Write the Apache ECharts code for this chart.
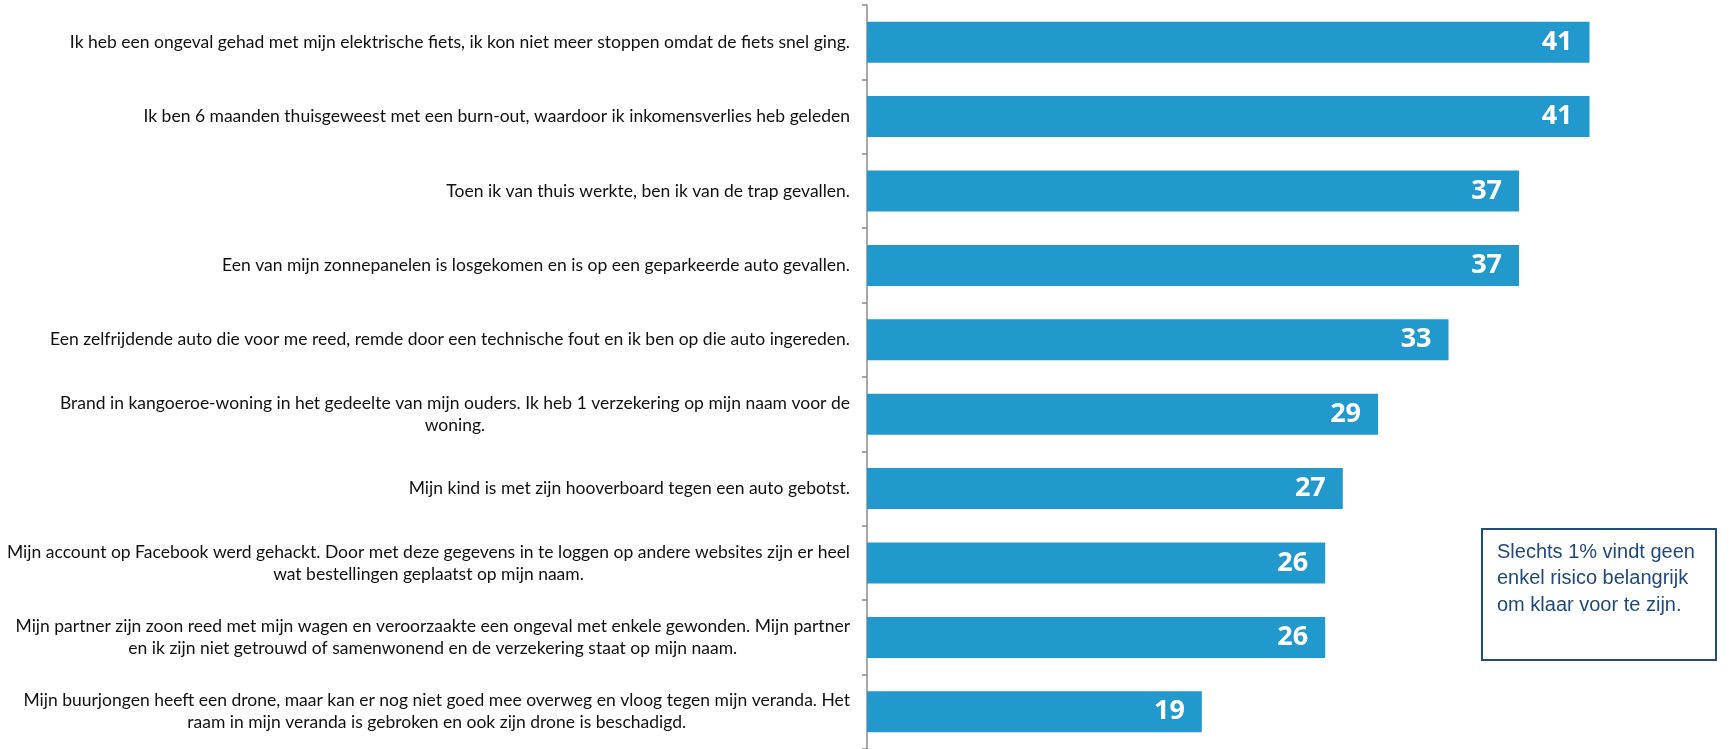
<!DOCTYPE html>
<html>
<head>
<meta charset="utf-8">
<script src="https://cdn.jsdelivr.net/npm/echarts@6/dist/echarts.min.js"></script>
<style>
html,body{margin:0;padding:0;background:#fff;}
#chart{width:1733px;height:749px;}
</style>
</head>
<body>
<div id="chart"></div>
<script>
const categories = [
  "Ik heb een ongeval gehad met mijn elektrische fiets, ik kon niet meer stoppen omdat de fiets snel ging.",
  "Ik ben 6 maanden thuisgeweest met een burn-out, waardoor ik inkomensverlies heb geleden",
  "Toen ik van thuis werkte, ben ik van de trap gevallen.",
  "Een van mijn zonnepanelen is losgekomen en is op een geparkeerde auto gevallen.",
  "Een zelfrijdende auto die voor me reed, remde door een technische fout en ik ben op die auto ingereden.",
  "Brand in kangoeroe-woning in het gedeelte van mijn ouders. Ik heb 1 verzekering op mijn naam voor de\nwoning.",
  "Mijn kind is met zijn hooverboard tegen een auto gebotst.",
  "Mijn account op Facebook werd gehackt. Door met deze gegevens in te loggen op andere websites zijn er heel\nwat bestellingen geplaatst op mijn naam.",
  "Mijn partner zijn zoon reed met mijn wagen en veroorzaakte een ongeval met enkele gewonden. Mijn partner\nen ik zijn niet getrouwd of samenwonend en de verzekering staat op mijn naam.",
  "Mijn buurjongen heeft een drone, maar kan er nog niet goed mee overweg en vloog tegen mijn veranda. Het\nraam in mijn veranda is gebroken en ook zijn drone is beschadigd."
];
const values = [41, 41, 37, 37, 33, 29, 27, 26, 26, 19];
const noteText = "Slechts 1% vindt geen\nenkel risico belangrijk\nom klaar voor te zijn.";

const chart = echarts.init(document.getElementById('chart'), null, {renderer: 'canvas'});
chart.setOption({
  animation: false,
  backgroundColor: '#ffffff',
  grid: {left: 867, top: 5, height: 747, right: 73, containLabel: false},
  xAxis: {type: 'value', min: 0, max: 45, show: false},
  yAxis: {
    type: 'category',
    inverse: true,
    data: categories,
    axisLine: {show: true, lineStyle: {color: '#8c8c8c', width: 1.5}},
    axisTick: {show: true, length: 5, lineStyle: {color: '#8c8c8c', width: 1.5}},
    axisLabel: {
      margin: 17,
      fontFamily: 'Lato',
      fontSize: 17.5,
      color: '#111111',
      lineHeight: 22,
      formatter: function (v) {
        return v.split('\n').map(function (l) { return '{c|' + l + '}'; }).join('\n');
      },
      rich: {c: {align: 'center', fontFamily: 'Lato', fontSize: 17.5, color: '#111111', lineHeight: 22}}
    }
  },
  series: [{
    type: 'bar',
    data: values,
    barWidth: 41,
    itemStyle: {color: '#2199CD'},
    label: {
      show: true,
      position: 'insideRight',
      distance: 17,
      color: '#ffffff',
      fontFamily: 'Open Sans',
      fontWeight: 'bold',
      fontSize: 27
    }
  }],
  graphic: [
    {type: 'rect', left: 1481, top: 528, shape: {width: 234, height: 131},
     style: {fill: '#ffffff', stroke: '#1F4E79', lineWidth: 2}},
    {type: 'text', left: 1497, top: 539,
     style: {text: noteText, fill: '#1F497D', font: '20px "Liberation Sans"', lineHeight: 26.5}}
  ]
});
</script>
</body>
</html>
